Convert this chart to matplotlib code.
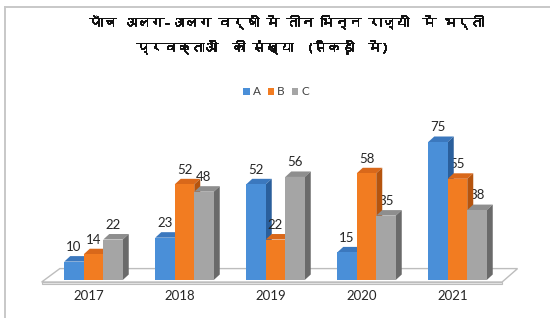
import matplotlib
matplotlib.use("Agg")
import matplotlib.pyplot as plt
from matplotlib.patches import Polygon, Patch
from matplotlib.lines import Line2D
from matplotlib import font_manager
from matplotlib.ft2font import FT2Font
import matplotlib.patheffects as pe

years = ["2017", "2018", "2019", "2020", "2021"]
series_names = ["A", "B", "C"]
values_a = [10, 23, 52, 15, 75]
values_b = [14, 52, 22, 58, 55]
values_c = [22, 48, 56, 35, 38]
title_line1 = "पाँच अलग-अलग वर्षों में तीन भिन्न राज्यों  में भर्ती"
title_line2 = "प्रवक्ताओं  की संख्या  (सैकड़ों  में)"

FRONT = ["#4A8FD8", "#F27C21", "#A5A5A5"]
TOP   = ["#3B78BE", "#D9681A", "#8E8E8E"]
SIDE  = ["#2A5F9C", "#B5540E", "#6A6A6A"]


def devanagari_family():
    # first installed font that actually has Devanagari glyphs, if any
    for fe in font_manager.fontManager.ttflist:
        try:
            if 0x0915 in FT2Font(fe.fname).get_charmap():
                return fe.name
        except Exception:
            continue
    return None


deva = devanagari_family()
title_family = [deva, "DejaVu Sans"] if deva else ["DejaVu Sans"]
plt.rcParams["font.family"] = ["Lato", "DejaVu Sans"]

W, H = 550, 318
fig = plt.figure(figsize=(W / 100, H / 100), dpi=100)
ax = fig.add_axes([0, 0, 1, 1])
ax.set_axis_off()

# pixel geometry
px_per_group = 91.0
x0_px = 93.5          # centre of first group
px_per_unit = 1.84
base_px = 280.0       # baseline, from top
ax.set_xlim(-x0_px / px_per_group, (W - x0_px) / px_per_group)
ax.set_ylim(-(H - base_px) / px_per_unit, base_px / px_per_unit)

bw = 19.5 / px_per_group
ddx = 6.0 / px_per_group
ddy = 5.5 / px_per_unit

# floor plate
fl_front = -1.1
fl_back = 6.2
fl_thick = 1.0
floor_top = [(-0.57, fl_front), (4.49, fl_front), (4.66, fl_back), (-0.37, fl_back)]
ax.add_patch(Polygon(floor_top, closed=True, facecolor="white",
                     edgecolor="#BDBDBD", linewidth=1.0, zorder=1))
ax.add_patch(Polygon([(-0.57, fl_front), (4.49, fl_front),
                      (4.49, fl_front - fl_thick), (-0.57, fl_front - fl_thick)],
                     closed=True, facecolor="#E6E6E6", edgecolor="#BDBDBD",
                     linewidth=0.8, zorder=1))

series = [values_a, values_b, values_c]
z = 2
for gi in range(len(years)):
    for si, vals in enumerate(series):
        v = vals[gi]
        xl = gi + (si - 1.5) * bw
        xr = xl + bw
        ax.add_patch(Polygon([(xl, v), (xr, v), (xr + ddx, v + ddy), (xl + ddx, v + ddy)],
                             closed=True, facecolor=TOP[si], edgecolor="none", zorder=z))
        ax.add_patch(Polygon([(xr, 0), (xr + ddx, ddy), (xr + ddx, v + ddy), (xr, v)],
                             closed=True, facecolor=SIDE[si], edgecolor="none", zorder=z))
        ax.bar(xl, v, width=bw, align="edge", color=FRONT[si], edgecolor="none", zorder=z + 1)
        ax.text(xl + bw / 2, v + 8, str(v), ha="center", va="center",
                fontsize=9.5, color="#262626", zorder=20)
        z += 2

for gi, yr in enumerate(years):
    ax.text(gi - 0.05, -8.8, yr, ha="center", va="center", fontsize=9.5, color="#262626")

# titles (stroke fakes the heavy weight the Devanagari font lacks)
heavy = [pe.withStroke(linewidth=0.7, foreground="#111111")]
fig.text(286 / W, 1 - 22 / H, title_line1, ha="center", va="center",
         fontsize=9.8, fontweight="bold", family=title_family, color="#111111",
         path_effects=heavy)
fig.text(262 / W, 1 - 47 / H, title_line2, ha="center", va="center",
         fontsize=9.8, fontweight="bold", family=title_family, color="#111111",
         path_effects=heavy)

handles = [Patch(facecolor=FRONT[i], edgecolor="none", label=series_names[i]) for i in range(3)]
fig.legend(handles=handles, loc="center", bbox_to_anchor=(276 / W, 1 - 92 / H), ncol=3,
           frameon=False, fontsize=8.5, handlelength=0.55, handleheight=0.55,
           handletextpad=0.25, columnspacing=0.6, labelcolor="#404040")

# chart-area border (left and top edges)
fig.add_artist(Line2D([5 / W, 5 / W], [0, 1 - 7 / H], color="#C8C8C8", linewidth=1.4))
fig.add_artist(Line2D([5 / W, 1], [1 - 7 / H, 1 - 7 / H], color="#C8C8C8", linewidth=1.4))

fig.savefig("out.png", dpi=100)
